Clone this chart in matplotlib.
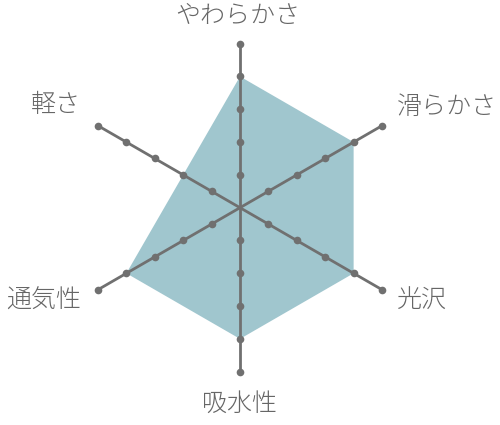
import numpy as np
import matplotlib
matplotlib.use("Agg")
import matplotlib.pyplot as plt

plt.rcParams['font.family'] = ['Noto Sans CJK JP', 'DejaVu Sans']

categories = ["やわらかさ", "滑らかさ", "光沢", "吸水性", "通気性", "軽さ"]
values = [4, 4, 4, 4, 4, 2]
levels = [1, 2, 3, 4, 5]

# label offsets in pixels (dx, dy, ha)
label_offsets = [(-2, 28, 'center'), (15, 19, 'left'), (15, -11, 'left'),
                 (0, -32, 'center'), (-17, -11, 'right'), (-17, 21, 'right')]

line_color = "#707070"
fill_color = "#a0c6ce"
text_color = "#666666"

fig = plt.figure(figsize=(5, 4.25), dpi=100)
ax = fig.add_axes([0.152, 0.1254, 0.656, 0.7718], projection='polar')
ax.set_theta_offset(np.pi / 2)
ax.set_theta_direction(-1)
ax.set_ylim(0, levels[-1])
ax.grid(False)
ax.spines['polar'].set_visible(False)
ax.set_xticks([])
ax.set_yticks([])
ax.patch.set_alpha(0)

n = len(categories)
angles = np.linspace(0, 2 * np.pi, n, endpoint=False)

closed_a = np.concatenate([angles, angles[:1]])
closed_v = np.concatenate([values, values[:1]])
ax.fill(closed_a, closed_v, color=fill_color, lw=0, zorder=1)

for a in angles:
    ax.plot([a, a], [0, levels[-1]], color=line_color, lw=2, zorder=2, clip_on=False,
            solid_capstyle='butt')
    ax.plot([a] * len(levels), levels, 'o', color=line_color, ms=5.5, mew=0,
            zorder=3, clip_on=False)

for a, lab, (dx, dy, ha) in zip(angles, categories, label_offsets):
    ax.annotate(lab, xy=(a, levels[-1]), xytext=(dx, dy), textcoords='offset pixels',
                ha=ha, va='center', fontsize=18, color=text_color,
                fontweight='light', annotation_clip=False)

fig.savefig("out.png", dpi=100)
